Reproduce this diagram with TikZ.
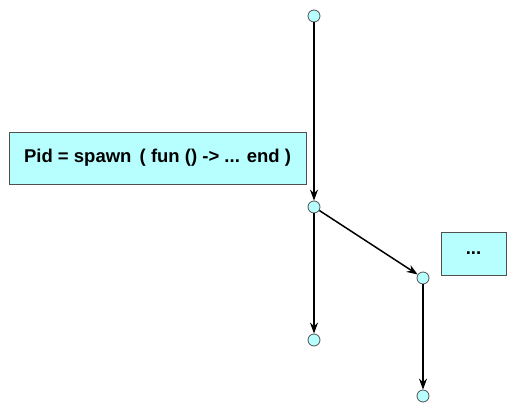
\documentclass[tikz,border=0pt]{standalone}
\usepackage{fontspec}
\setmainfont{Liberation Sans}
\usepackage{xcolor}
\usetikzlibrary{arrows.meta}
\definecolor{procfill}{RGB}{183,255,255}
\definecolor{edgegray}{RGB}{80,80,80}

\begin{document}
\begin{tikzpicture}[x=1pt, y=-1pt,
      point/.style={draw=edgegray, circle, fill=procfill, minimum size=12pt, inner sep=0pt, line width=0.8pt},
      note/.style={draw=edgegray, rectangle, fill=procfill, align=center, line width=0.8pt, font=\fontsize{18.5}{20}\selectfont\bfseries},
      flow/.style={-{Stealth[length=11pt, width=8pt]}, line width=1.5pt}]
    \useasboundingbox (0,0) rectangle (517,414);

    \node[point] (p0) at (314,16) {};
    \node[point] (p1) at (314,207) {};
    \node[point] (p2) at (314,340) {};
    \node[point] (c1) at (423,278) {};
    \node[point] (c2) at (423,396) {};

    \node[note, minimum width=297pt, minimum height=52pt] (spawn) at (157.5,158) {Pid = spawn \,( fun () -> ... end )};
    \node[note, minimum width=65pt, minimum height=43pt] (dots) at (473.5,253.5) {...};

    \draw[flow] (p0) -- (p1);
    \draw[flow] (p1) -- (p2);
    \draw[flow] (p1) -- (c1);
    \draw[flow] (c1) -- (c2);
  \end{tikzpicture}
\end{document}
